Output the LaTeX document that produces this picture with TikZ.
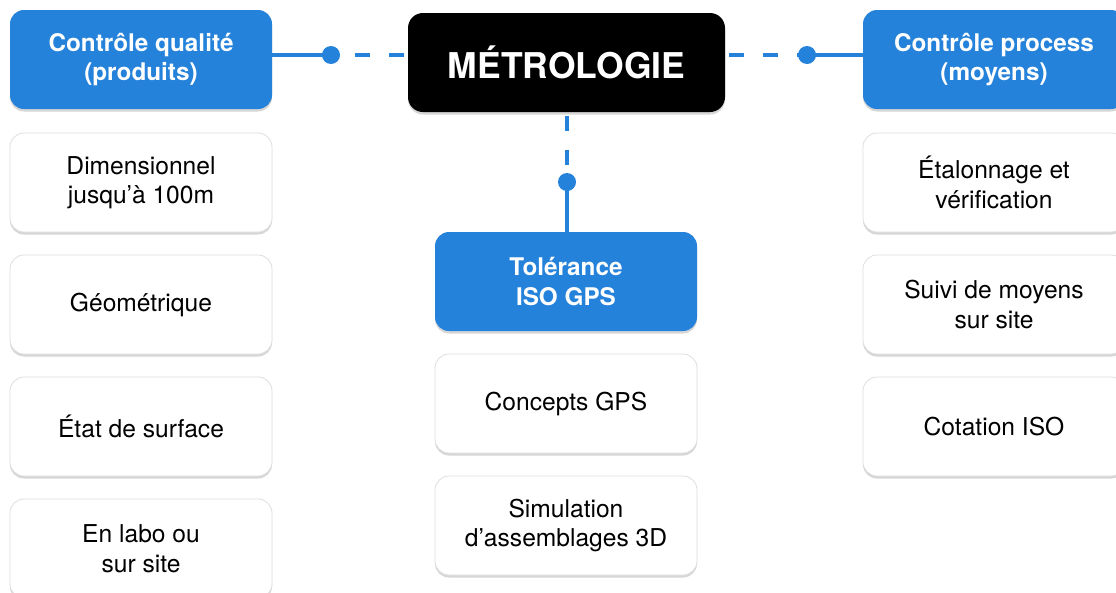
\documentclass[tikz,border=0pt]{standalone}
\usepackage{fontspec}
\setmainfont{TeX Gyre Heros}
\usetikzlibrary{shadows}
\definecolor{mblue}{RGB}{37,130,218}
\definecolor{mborder}{RGB}{222,222,222}
\tikzset{
  basebox/.style={rectangle, rounded corners=14pt, minimum width=262pt, minimum height=99pt,
    align=center, inner sep=0pt, font=\fontsize{24.6}{29.5}\selectfont,
    drop shadow={shadow xshift=0pt, shadow yshift=-2.5pt, opacity=0.16, fill=black}},
  bluebox/.style={basebox, fill=mblue, text=white, font=\bfseries\fontsize{24.3}{29.5}\selectfont},
  whitebox/.style={basebox, fill=white, draw=mborder, line width=0.8pt, text=black},
  titlebox/.style={basebox, fill=black, text=white, minimum width=317pt, rounded corners=15pt,
    font=\bfseries\fontsize{35.5}{40}\selectfont},
  solidlink/.style={draw=mblue, line width=3.5pt},
  dashlink/.style={draw=mblue, line width=3.5pt, dash pattern=on 15pt off 19pt, dash phase=30pt},
  dotmark/.style={fill=mblue}
}
\begin{document}
\begin{tikzpicture}[x=1pt, y=-1pt]
\useasboundingbox (0,0) rectangle (1116,592);
\clip (0,0) rectangle (1116,592);
\fill[white] (0,0) rectangle (1116,592);

% main nodes
\node[titlebox] (metro) at (566.5,62.5) {MÉTROLOGIE};
\node[bluebox] (qual) at (141,59.5) {Contrôle qualité\\(produits)};
\node[bluebox] (proc) at (994,59.5) {Contrôle process\\(moyens)};
\node[bluebox] (tol) at (566,281.5) {Tolérance\\ISO GPS};

% left column
\node[whitebox] (l1) at (141,182.5) {Dimensionnel\\jusqu’à 100m};
\node[whitebox] (l2) at (141,304.5) {Géométrique};
\node[whitebox] (l3) at (141,426.5) {État de surface};
\node[whitebox] (l4) at (141,548.5) {En labo ou\\sur site};

% center column
\node[whitebox] (c1) at (566,403.5) {Concepts GPS};
\node[whitebox] (c2) at (566,525.5) {Simulation\\d’assemblages 3D};

% right column
\node[whitebox] (r1) at (994,182.5) {Étalonnage et\\vérification};
\node[whitebox] (r2) at (994,304.5) {Suivi de moyens\\sur site};
\node[whitebox] (r3) at (994,426.5) {Cotation ISO};

% connector points
\coordinate (dotL) at (331,55);
\coordinate (dotR) at (807,55);
\coordinate (dotC) at (567,182);

% connectors
\draw[solidlink] (qual.east |- dotL) -- (dotL);
\draw[dashlink] (metro.west |- dotL) -- (dotL);
\draw[dashlink] (metro.east |- dotR) -- (dotR);
\draw[solidlink] (dotR) -- (proc.west |- dotR);
\draw[dashlink] (metro.south -| dotC) -- (dotC);
\draw[solidlink] (dotC) -- (tol.north -| dotC);

\fill[dotmark] (dotL) circle (9pt);
\fill[dotmark] (dotR) circle (9pt);
\fill[dotmark] (dotC) circle (9pt);
\end{tikzpicture}
\end{document}
